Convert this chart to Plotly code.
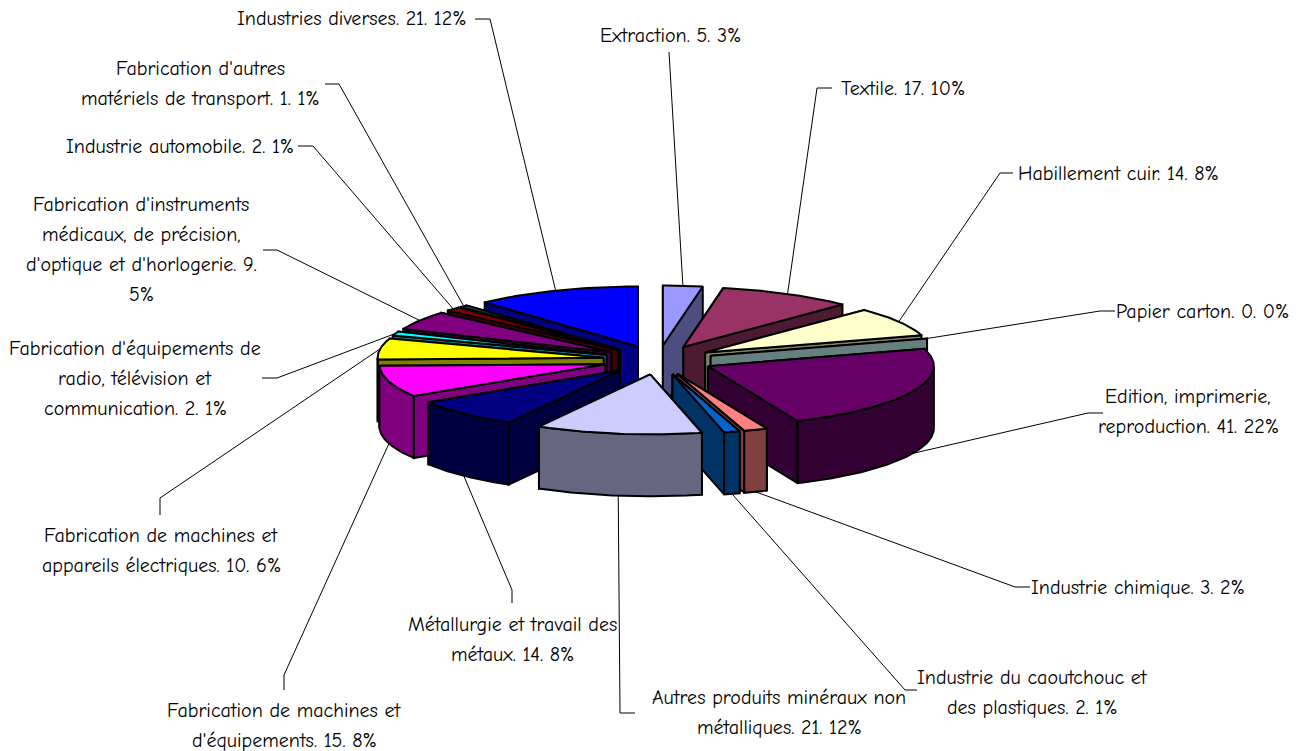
import numpy as np
import plotly.graph_objects as go

categories = [
    "Extraction", "Textile", "Habillement cuir", "Papier carton",
    "Edition, imprimerie, reproduction", "Industrie chimique",
    "Industrie du caoutchouc et des plastiques",
    "Autres produits minéraux non métalliques",
    "Métallurgie et travail des métaux",
    "Fabrication de machines et d'équipements",
    "Fabrication de machines et appareils électriques",
    "Fabrication d'équipements de radio, télévision et communication",
    "Fabrication d'instruments médicaux, de précision, d'optique et d'horlogerie",
    "Industrie automobile",
    "Fabrication d'autres matériels de transport",
    "Industries diverses",
]
values = [5, 17, 14, 0, 41, 3, 2, 21, 14, 15, 10, 2, 9, 2, 1, 21]
top_colors = [
    "#9999FF", "#993366", "#FFFFCC", "#CCFFFF", "#660066", "#FF8080", "#0066CC", "#CCCCFF",
    "#000080", "#FF00FF", "#FFFF00", "#00FFFF", "#800080", "#800000", "#008080", "#0000FF",
]
side_colors = [
    "#4D4D80", "#4D1A33", "#808066", "#668080", "#330033", "#804040", "#003366", "#666680",
    "#000040", "#800080", "#808000", "#008080", "#400040", "#400000", "#004040", "#000080",
]
label_lines = [
    ["Extraction. 5. 3%"],
    ["Textile. 17. 10%"],
    ["Habillement cuir. 14. 8%"],
    ["Papier carton. 0. 0%"],
    ["Edition, imprimerie,", "reproduction. 41. 22%"],
    ["Industrie chimique. 3. 2%"],
    ["Industrie du caoutchouc et", "des plastiques. 2. 1%"],
    ["Autres produits minéraux non", "métalliques. 21. 12%"],
    ["Métallurgie et travail des", "métaux. 14. 8%"],
    ["Fabrication de machines et", "d'équipements. 15. 8%"],
    ["Fabrication de machines et", "appareils électriques. 10. 6%"],
    ["Fabrication d'équipements de", "radio, télévision et", "communication. 2. 1%"],
    ["Fabrication d'instruments", "médicaux, de précision,", "d'optique et d'horlogerie. 9.", "5%"],
    ["Industrie automobile. 2. 1%"],
    ["Fabrication d'autres", "matériels de transport. 1. 1%"],
    ["Industries diverses. 21. 12%"],
]

# layout of the labels, in page pixels (centre x, y of first line)
label_pos = [
    (671, 35), (903, 88), (1118, 173), (1202, 311), (1188, 396), (1138, 587), (1032, 677), (779, 697),
    (512, 624), (284, 710), (161, 535), (135, 348), (141, 204), (180, 146), (200, 68), (352, 18),
]
leader_tails = [
    [(669, 52)],
    [(817, 88), (832, 88)],
    [(1000, 173), (1013, 173)],
    [(1100, 311), (1115, 311)],
    [(1088, 413), (1103, 413)],
    [(1015, 587), (1030, 587)],
    [(905, 690), (917, 690)],
    [(620, 713), (635, 713)],
    [(512, 590), (512, 603)],
    [(284, 675), (284, 690)],
    [(160, 498), (160, 515)],
    [(277, 378), (262, 378)],
    [(277, 250), (263, 250)],
    [(313, 146), (298, 146)],
    [(339, 84), (325, 84)],
    [(490, 19), (475, 19)],
]

# pie geometry
CX, CY = 658, 360
RADIUS = 226
TILT = 0.265
DEPTH = 62
EXPLODE = 55
LINE_GAP = 30


def arc(ax, ay, a1, a2, drop=0):
    t = np.radians(np.linspace(a1, a2, max(2, int(abs(a2 - a1)) + 2)))
    return ax + RADIUS * np.sin(t), ay - RADIUS * TILT * np.cos(t) + drop


def polygon(x, y, fill):
    return go.Scatter(
        x=list(x) + [x[0]],
        y=list(y) + [y[0]],
        mode="lines",
        fill="toself",
        fillcolor=fill,
        line=dict(color="black", width=2),
        hoverinfo="skip",
        showlegend=False,
    )


def cut_face(ax, ay, angle, fill):
    rx, ry = arc(ax, ay, angle, angle)
    rx, ry = rx[0], ry[0]
    return polygon([ax, rx, rx, ax], [ay, ry, ry + DEPTH, ay + DEPTH], fill)


fig = go.Figure()

total = sum(values)
edges = np.cumsum([0] + values) / total * 360
slices = []
for i in range(len(values)):
    a1, a2 = edges[i], edges[i + 1]
    mid = np.radians((a1 + a2) / 2)
    ax = CX + EXPLODE * np.sin(mid)
    ay = CY - EXPLODE * TILT * np.cos(mid)
    slices.append((i, a1, a2, mid, ax, ay))

# leader lines sit under the pie
for i, a1, a2, mid, ax, ay in slices:
    rx = ax + RADIUS * np.sin(mid)
    ry = ay - RADIUS * TILT * np.cos(mid) + (DEPTH if np.cos(mid) < 0 else 0)
    tail = leader_tails[i]
    fig.add_trace(
        go.Scatter(
            x=[rx] + [p[0] for p in tail],
            y=[ry] + [p[1] for p in tail],
            mode="lines",
            line=dict(color="black", width=1),
            hoverinfo="skip",
            showlegend=False,
        )
    )

# back slices first
for i, a1, a2, mid, ax, ay in sorted(slices, key=lambda s: -np.cos(s[3])):
    side = side_colors[i]
    order = [a1, a2] if np.sin(mid) > 0 else [a2, a1]
    for angle in order:
        fig.add_trace(cut_face(ax, ay, angle, side))

    w1, w2 = max(a1, 90), min(a2, 270)
    if w2 > w1:
        tx, ty = arc(ax, ay, w1, w2)
        bx, by = arc(ax, ay, w1, w2, DEPTH)
        fig.add_trace(
            polygon(np.r_[tx, bx[::-1]], np.r_[ty, by[::-1]], side)
        )

    if a2 > a1:
        tx, ty = arc(ax, ay, a1, a2)
        fig.add_trace(polygon(np.r_[ax, tx], np.r_[ay, ty], top_colors[i]))

for lines, (lx, ly) in zip(label_lines, label_pos):
    for n, line in enumerate(lines):
        fig.add_annotation(
            x=lx,
            y=ly + n * LINE_GAP,
            text=line,
            showarrow=False,
            xanchor="center",
            yanchor="middle",
        )

fig.update_xaxes(range=[0, 1298], visible=False)
fig.update_yaxes(range=[751, 0], visible=False)
fig.update_layout(
    width=1298,
    height=751,
    margin=dict(l=0, r=0, t=0, b=0),
    paper_bgcolor="white",
    plot_bgcolor="white",
    font=dict(family="'Comic Sans MS', 'Comic Neue', Lato, sans-serif", size=20, color="black"),
    showlegend=False,
)

# the browser's default body margin would shift the whole picture
fig.write_html(
    "out.html",
    config={"displayModeBar": False},
    post_script="document.body.style.margin = '0';",
)
